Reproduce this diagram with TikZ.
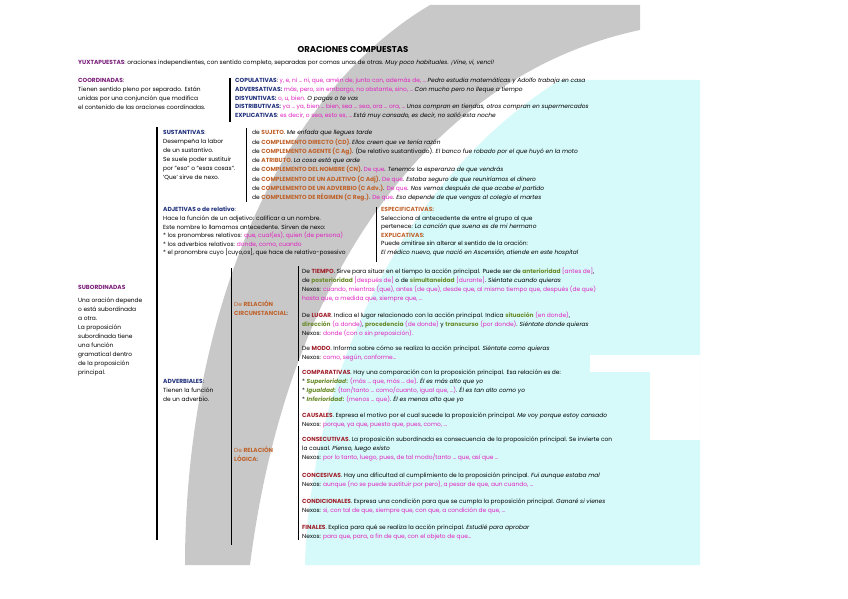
\documentclass[tikz,border=0pt]{standalone}
\usepackage{fontspec}
\setmainfont{Poppins}
\definecolor{purp}{HTML}{7A1F7A}
\definecolor{navy}{HTML}{1F2F7A}
\definecolor{nexo}{HTML}{E020C0}
\definecolor{orng}{HTML}{C0622A}
\definecolor{dred}{HTML}{A01F2A}
\definecolor{olive}{HTML}{6A8A2A}
\definecolor{cyanbg}{HTML}{D6FAFA}
\definecolor{graybg}{HTML}{C8C8C8}
\newcommand\nx[1]{\textcolor{nexo}{#1}}
\newcommand\nv[1]{\textcolor{navy}{\textbf{#1}}}
\newcommand\og[1]{\textcolor{orng}{\textbf{#1}}}
\newcommand\dr[1]{\textcolor{dred}{\textbf{#1}}}
\newcommand\ol[1]{\textcolor{olive}{\textbf{#1}}}
\begin{document}
\begin{tikzpicture}[x=1pt,y=-1pt,
  txt/.style={anchor=north west,inner sep=0pt,align=left,font=\fontsize{5.9}{9}\selectfont},
  bar/.style={line width=1.3pt,black}]
\useasboundingbox (0,0) rectangle (848,599);
% background
\fill[cyanbg] (560,80) .. controls (400,180) and (310,380) .. (305,565) -- (700,565) -- (700,80) -- cycle;
\fill[white] (650,355) rectangle (700,440);
\fill[white] (590,355) rectangle (650,372);
\fill[graybg] (430,5) -- (640,5) -- (640,30) .. controls (450,70) and (290,250) .. (250,565) -- (185,565) .. controls (185,330) and (270,100) .. cycle;
% title
\node[anchor=base,font=\bfseries\fontsize{8.5}{9}\selectfont] (title) at (353,53) {ORACIONES COMPUESTAS};
\node[txt] (yux) at (78,60) {\textcolor{purp}{\textbf{YUXTAPUESTAS}}: oraciones independientes, con sentido completo, separadas por comas unas de otras. \textit{Muy poco habituales. ¡Vine, vi, vencí!}};
\node[txt] (coord) at (78,78) {\textcolor{purp}{\textbf{COORDINADAS}}:\\Tienen sentido pleno por separado. Están\\unidas por una conjunción que modifica\\el contenido de las oraciones coordinadas.};
\coordinate (c1) at (230,78); \coordinate (c2) at (230,122);
\draw[bar] (c1) -- (c2);
\node[txt,font=\fontsize{5.9}{8.6}\selectfont] (coordl) at (235,78) {\nv{COPULATIVAS}: \nx{y, e, ni … ni, que, amén de, junto con, además de, …} \textit{Pedro estudia matemáticas y Adolfo trabaja en casa}\\
\nv{ADVERSATIVAS:} \nx{más, pero, sin embargo, no obstante, sino, …} \textit{Con mucho pero no lleque a tiempo}\\
\nv{DISYUNTIVAS:} \nx{o, u, bien.} \textit{O pagas o te vas}\\
\nv{DISTRIBUTIVAS:} \nx{ya … ya, bien … bien, sea … sea, ora … ora, …} \textit{Unos compran en tiendas, otros compran en supermercados}\\
\nv{EXPLICATIVAS}: \nx{es decir, o sea, esto es, …} \textit{Está muy cansado, es decir, no salió esta noche}};
% big left bar
\coordinate (b1) at (157,127); \coordinate (b2) at (157,540);
\draw[bar] (b1) -- (b2);
\node[txt] (sust) at (163,130) {\nv{SUSTANTIVAS}:\\Desempeña la labor\\de un sustantivo.\\Se suele poder sustituir\\por "eso" o "esas cosas".\\'Que' sirve de nexo.};
\coordinate (s1) at (246,128); \coordinate (s2) at (246,202);
\draw[bar,line width=0.8pt] (s1) -- (s2);
\node[txt,font=\fontsize{5.9}{9.3}\selectfont] (sustl) at (252,130) {de \og{SUJETO}. \textit{Me enfada que llegues tarde}\\
de \og{COMPLEMENTO DIRECTO (CD)}. \textit{Ellos creen que ve tenía razón}\\
de \og{COMPLEMENTO AGENTE (C Ag)}. (De relativo sustantivado). \textit{El banco fue robado por el que huyó en la moto}\\
de \og{ATRIBUTO}. \textit{La cosa está que arde}\\
de \og{COMPLEMENTO DEL NOMBRE (CN)}. \nx{De que}. \textit{Tenemos la esperanza de que vendrás}\\
de \og{COMPLEMENTO DE UN ADJETIVO (C Adj)}. \nx{De que}. \textit{Estaba seguro de que reuniríamos el dinero}\\
de \og{COMPLEMENTO DE UN ADVERBIO (C Adv.)}. \nx{De que}. \textit{Nos vemos después de que acabe el partido}\\
de \og{COMPLEMENTO DE RÉGIMEN (C Reg.)}. \nx{De que}. \textit{Eso depende de que vengas al colegio el martes}};
\node[txt,font=\fontsize{5.9}{8.6}\selectfont] (adj) at (163,207) {\nv{ADJETIVAS o de relativo}:\\Hace la función de un adjetivo: calificar a un nombre.\\Este nombre lo llamamos antecedente. Sirven de nexo:\\* los pronombres relativos: \nx{que, cual(es), quien (de persona)}\\* los adverbios relativos: \nx{donde, como, cuando}\\* el pronombre cuyo [cuyo,os], que hace de relativo-posesivo};
\coordinate (a1) at (376,207); \coordinate (a2) at (376,262);
\draw[bar,line width=0.8pt] (a1) -- (a2);
\node[txt,font=\fontsize{5.9}{8.6}\selectfont] (esp) at (381,207) {\og{ESPECIFICATIVAS:}\\Selecciona al antecedente de entre el grupo al que\\pertenece: \textit{La canción que suena es de mi hermano}\\\og{EXPLICATIVAS}:\\Puede omitirse sin alterar el sentido de la oración:\\\textit{El médico nuevo, que nació en Ascensión, atiende en este hospital}};
\node[txt] (subo) at (78,285) {\textcolor{purp}{\textbf{SUBORDINADAS}}\\[4pt]Una oración depende\\o está subordinada\\a otra.\\La proposición\\subordinada tiene\\una función\\gramatical dentro\\de la proposición\\principal.};
\node[txt] (adv) at (163,379) {\nv{ADVERBIALES}:\\Tienen la función\\de un adverbio.};
\coordinate (v1) at (231,268); \coordinate (v2) at (231,545);
\draw[bar,line width=0.8pt] (v1) -- (v2);
\node[txt] (circ) at (234,301) {\textcolor{orng}{De} \og{RELACIÓN}\\\og{CIRCUNSTANCIAL}:};
\node[txt] (log) at (234,447) {\textcolor{orng}{De} \og{RELACIÓN}\\\og{LÓGICA}:};
\coordinate (w1) at (298,266); \coordinate (w2) at (298,361);
\coordinate (w3) at (298,366); \coordinate (w4) at (298,540);
\draw[bar,line width=0.8pt] (w1) -- (w2);
\draw[bar,line width=0.8pt] (w3) -- (w4);
\node[txt,font=\fontsize{5.9}{8.8}\selectfont] (r1) at (302,268) {De \dr{TIEMPO}. Sirve para situar en el tiempo la acción principal. Puede ser de \ol{anterioridad} \nx{[antes de]},\\de \ol{posterioridad} \nx{[después de]} o de \ol{simultaneidad} \nx{[durante]}. \textit{Siéntate cuando quieras}\\Nexos: \nx{cuando, mientras (que), antes (de que), desde que, al mismo tiempo que, después (de que)}\\\nx{hasta que, a medida que, siempre que, …}};
\node[txt,font=\fontsize{5.9}{8.8}\selectfont] (r2) at (302,312) {De \dr{LUGAR}. Indica el lugar relacionado con la acción principal. Indica \ol{situación} \nx{(en donde)},\\\ol{dirección} \nx{(a donde)}, \ol{procedencia} \nx{(de donde)} y \ol{transcurso} \nx{(por donde)}. \textit{Siéntate donde quieras}\\Nexos: \nx{donde (con o sin preposición).}};
\node[txt,font=\fontsize{5.9}{8.8}\selectfont] (r3) at (302,346) {De \dr{MODO}. Informa sobre cómo se realiza la acción principal. \textit{Siéntate como quieras}\\Nexos: \nx{como, según, conforme…}};
\node[txt,font=\fontsize{5.9}{8.8}\selectfont] (r4) at (302,370) {\dr{COMPARATIVAS}. Hay una comparación con la proposición principal. Esa relación es de:\\* \ol{\textit{Superioridad}:} \nx{(más … que, más … de)}. \textit{Él es más alto que yo}\\* \ol{\textit{Igualdad}:} \nx{(tan/tanto … como/cuanto, igual que, …)}. \textit{Él es tan alto como yo}\\* \ol{\textit{Inferioridad}:} \nx{(menos … que)}. \textit{Él es menos alto que yo}};
\node[txt,font=\fontsize{5.9}{8.8}\selectfont] (r5) at (302,413) {\dr{CAUSALES}. Expresa el motivo por el cual sucede la proposición principal. \textit{Me voy porque estoy cansado}\\Nexos: \nx{porque, ya que, puesto que, pues, como, …}};
\node[txt,font=\fontsize{5.9}{8.8}\selectfont] (r6) at (302,437) {\dr{CONSECUTIVAS}. La proposición subordinada es consecuencia de la proposición principal. Se invierte con\\la causal. \textit{Pienso, luego existo}\\Nexos: \nx{por lo tanto, luego, pues, de tal modo/tanto … que, así que …}};
\node[txt,font=\fontsize{5.9}{8.8}\selectfont] (r7) at (302,473) {\dr{CONCESIVAS}. Hay una dificultad al cumplimiento de la proposición principal. \textit{Fui aunque estaba mal}\\Nexos: \nx{aunque (no se puede sustituir por pero), a pesar de que, aun cuando, …}};
\node[txt,font=\fontsize{5.9}{8.8}\selectfont] (r8) at (302,499) {\dr{CONDICIONALES}. Expresa una condición para que se cumpla la proposición principal. \textit{Ganaré si vienes}\\Nexos: \nx{si, con tal de que, siempre que, con que, a condición de que, …}};
\node[txt,font=\fontsize{5.9}{8.8}\selectfont] (r9) at (302,525) {\dr{FINALES}. Explica para qué se realiza la acción principal. \textit{Estudié para aprobar}\\Nexos: \nx{para que, para, a fin de que, con el objeto de que…}};
\end{tikzpicture}
\end{document}
